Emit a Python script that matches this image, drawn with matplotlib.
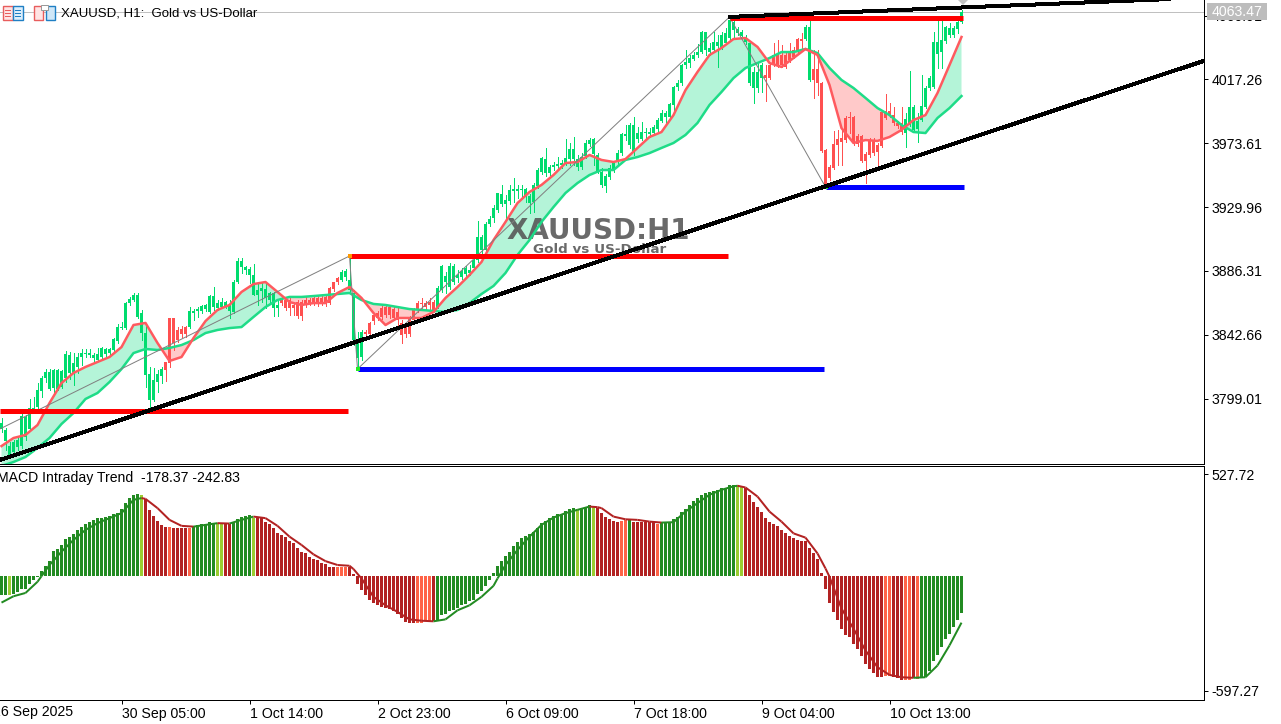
import numpy as np
import matplotlib
matplotlib.use("Agg")
import matplotlib.pyplot as plt
from matplotlib.patches import Rectangle, Polygon
from matplotlib.transforms import Affine2D
from matplotlib.collections import LineCollection

W, H = 1281, 724
UI_FONT = "Liberation Sans"

# ---------- data: candles (one per H1 bar) ----------
body_top = [
3782.2,3777.5,3766.5,3769.2,3770.6,3787.1,3786.4,3792.5,3792.5,3804.8,
3813.0,3817.2,3817.2,3818.5,3818.5,3817.8,3829.5,3828.8,3823.3,3827.4,
3830.1,3830.1,3830.1,3828.8,3829.5,3833.6,3832.9,3832.9,3839.7,3847.9,
3847.9,3864.3,3867.1,3869.8,3869.8,3857.5,3843.8,3815.8,3811.7,3815.8,
3819.2,3824.0,3854.1,3854.1,3845.9,3846.6,3847.9,3858.9,3858.9,3860.2,
3862.3,3863.0,3869.1,3869.1,3864.3,3865.0,3865.0,3862.3,3878.7,3893.1,
3893.1,3889.0,3887.6,3883.5,3873.2,3874.6,3873.9,3871.2,3871.2,3863.0,
3867.8,3866.4,3866.4,3863.0,3865.0,3865.0,3866.4,3866.4,3867.8,3867.8,
3867.8,3868.5,3874.6,3878.7,3881.4,3885.6,3886.2,3880.1,3871.2,3837.7,
3844.5,3844.5,3850.7,3856.1,3857.5,3860.9,3861.6,3861.6,3860.2,3858.2,
3850.7,3847.9,3854.1,3859.6,3864.3,3864.3,3864.3,3865.0,3865.0,3874.6,
3889.7,3882.8,3889.7,3889.7,3883.5,3886.2,3888.3,3886.9,3893.8,3909.5,
3909.5,3918.4,3921.8,3929.3,3939.6,3938.9,3934.8,3941.6,3942.3,3942.3,
3942.3,3942.3,3937.5,3945.1,3955.3,3963.5,3962.8,3957.4,3958.7,3959.4,
3960.1,3963.5,3969.7,3969.7,3962.8,3964.2,3973.8,3975.8,3976.5,3965.6,
3954.0,3951.2,3956.7,3960.1,3966.9,3980.0,3980.0,3986.1,3986.1,3980.6,
3981.3,3981.3,3981.3,3984.7,3989.5,3994.3,3994.3,4000.5,4012.1,4014.8,
4027.1,4029.2,4031.9,4034.0,4036.0,4049.7,4049.7,4038.8,4042.9,4042.9,
4047.7,4049.0,4057.9,4056.6,4051.8,4049.7,4045.6,4042.2,4022.4,4022.4,
4027.1,4020.3,4027.1,4034.0,4034.0,4034.0,4034.0,4036.0,4037.4,4044.9,
4044.9,4053.1,4053.1,4024.4,4024.4,4014.8,3969.0,3957.4,3973.1,3976.5,
3977.2,3990.9,3991.6,3991.6,3978.6,3978.6,3966.3,3975.8,3975.8,3972.4,
3995.0,3995.7,3995.7,3992.9,3987.5,3987.5,3990.2,3998.4,3998.4,3988.8,
3999.1,4011.4,4018.2,4042.9,4042.9,4044.2,4053.1,4052.4,4052.4,4056.6,4063.4]
body_bot = [
3778.2,3769.9,3760.4,3762.4,3765.8,3766.5,3772.7,3778.2,3791.8,3793.2,
3804.2,3813.0,3805.5,3806.2,3805.5,3806.9,3813.0,3816.5,3816.5,3820.6,
3827.4,3829.5,3828.8,3826.7,3825.4,3827.4,3829.5,3830.1,3832.2,3838.4,
3847.2,3847.2,3864.3,3866.4,3854.8,3843.8,3815.1,3798.0,3798.0,3810.3,
3814.4,3818.5,3823.3,3837.0,3839.0,3843.1,3843.1,3847.9,3857.5,3858.9,
3858.9,3860.2,3858.2,3861.6,3860.9,3861.6,3861.6,3858.9,3858.2,3878.7,
3889.0,3886.9,3883.5,3869.8,3869.8,3872.6,3867.8,3866.4,3860.9,3860.9,
3864.3,3860.9,3860.9,3860.9,3855.5,3855.5,3863.0,3864.3,3864.3,3863.7,
3864.3,3863.7,3864.3,3873.9,3878.7,3880.1,3882.1,3873.2,3839.0,3826.7,
3827.4,3843.1,3843.1,3852.0,3854.1,3854.8,3856.1,3856.1,3854.1,3852.7,
3842.4,3843.1,3843.1,3852.7,3859.6,3863.7,3861.6,3863.0,3859.6,3861.6,
3873.2,3878.7,3875.3,3878.7,3881.4,3882.1,3884.2,3884.9,3888.3,3893.8,
3900.6,3900.6,3918.4,3922.5,3928.0,3932.1,3932.1,3934.1,3941.0,3941.0,
3941.6,3936.9,3932.7,3933.4,3944.4,3954.0,3953.3,3953.3,3957.4,3958.1,
3958.7,3959.4,3962.8,3962.8,3957.4,3957.4,3964.9,3973.1,3966.3,3954.0,
3945.1,3944.4,3950.5,3955.3,3960.8,3966.9,3978.6,3972.4,3966.9,3976.5,
3976.5,3980.6,3979.9,3980.6,3983.4,3988.8,3991.6,3991.6,4000.0,4012.1,
4014.8,4027.1,4028.5,4031.2,4034.0,4036.0,4037.4,4036.0,4037.4,4040.1,
4038.8,4042.2,4045.6,4051.1,4049.0,4047.0,4042.9,4014.8,4011.4,4011.4,
4018.2,4018.2,4018.2,4027.1,4027.1,4027.1,4025.8,4030.6,4032.6,4036.0,
4043.6,4044.9,4016.9,4016.9,4014.8,3968.3,3945.1,3949.8,3956.7,3972.4,
3974.5,3975.8,3990.9,3973.8,3973.1,3961.5,3961.5,3965.6,3966.9,3967.6,
3971.7,3990.9,3992.9,3987.5,3985.4,3981.3,3980.6,3986.1,3982.7,3983.4,
3989.5,3998.4,4011.4,4012.1,4034.7,4036.0,4043.6,4047.7,4047.7,4051.8,4056.6]
highs = [
3785.7,3778.9,3769.2,3770.6,3772.7,3788.4,3787.8,3798.7,3800.1,3809.6,
3814.4,3819.2,3819.2,3819.2,3819.2,3818.5,3831.5,3830.8,3830.1,3830.1,
3832.9,3832.9,3832.9,3830.1,3833.6,3834.2,3833.6,3833.6,3840.4,3850.0,
3851.4,3865.0,3868.5,3871.2,3871.2,3859.6,3849.3,3820.6,3819.9,3818.5,
3820.6,3824.0,3854.1,3854.1,3847.9,3848.6,3848.6,3861.6,3860.2,3861.6,
3863.0,3863.7,3869.8,3875.3,3866.4,3867.8,3865.7,3866.4,3880.1,3895.1,
3895.1,3889.7,3889.0,3891.0,3878.0,3878.0,3878.0,3871.9,3871.9,3866.4,
3869.1,3867.8,3867.8,3864.3,3866.4,3866.4,3868.5,3867.8,3869.1,3869.1,
3869.1,3869.8,3875.3,3878.7,3882.1,3886.9,3887.6,3896.5,3873.2,3844.5,
3845.9,3845.9,3851.4,3857.5,3858.9,3862.3,3863.0,3863.0,3861.6,3860.9,
3852.7,3849.3,3855.5,3860.9,3865.7,3867.8,3865.7,3867.8,3866.4,3876.0,
3890.3,3885.6,3891.7,3891.0,3886.9,3888.3,3889.7,3890.3,3894.4,3920.4,
3910.9,3919.8,3923.9,3931.4,3939.6,3945.1,3938.2,3945.1,3949.8,3945.1,
3945.1,3943.0,3938.9,3946.4,3956.7,3964.2,3970.4,3958.7,3960.8,3964.2,
3962.2,3976.5,3973.8,3977.9,3965.6,3966.9,3975.8,3977.2,3977.2,3966.9,
3956.7,3952.6,3958.7,3960.8,3969.0,3980.6,3986.1,3987.5,3991.6,3984.7,
3988.2,3984.0,3984.0,3986.1,3990.9,3996.4,3995.7,4001.2,4012.8,4016.9,
4027.8,4037.4,4034.0,4036.0,4041.5,4050.4,4049.7,4042.2,4049.7,4047.7,
4049.7,4052.4,4060.0,4061.3,4053.1,4051.1,4047.7,4042.9,4025.8,4028.5,
4028.5,4027.1,4028.5,4042.2,4044.2,4040.8,4035.3,4042.2,4039.5,4045.6,
4049.0,4054.5,4057.9,4037.4,4037.4,4015.5,3969.7,3958.7,3982.0,3982.7,
3982.7,3992.3,3995.0,3992.3,3980.0,3979.3,3967.6,3977.2,3977.2,3973.8,
3996.4,4007.3,4001.2,3998.4,3988.8,3998.4,3994.3,4023.0,3999.8,3994.3,
4020.3,4012.8,4019.6,4049.7,4057.9,4057.9,4053.8,4055.9,4053.8,4057.9,4064.8]
lows = [
3776.1,3763.8,3759.0,3760.4,3763.8,3765.2,3770.6,3776.8,3790.5,3791.8,
3800.1,3810.3,3804.8,3802.8,3804.8,3806.2,3810.3,3812.4,3808.3,3816.5,
3822.0,3827.4,3827.4,3824.0,3824.7,3826.7,3827.4,3828.8,3830.8,3837.0,
3846.6,3846.6,3863.0,3865.7,3854.1,3839.0,3806.9,3792.5,3797.3,3803.5,
3809.6,3811.0,3820.6,3832.2,3837.7,3841.1,3841.1,3847.2,3852.7,3854.8,
3857.5,3858.9,3857.5,3859.6,3859.6,3860.9,3860.9,3854.1,3857.5,3878.0,
3884.9,3884.2,3878.0,3869.8,3863.0,3865.0,3860.9,3864.3,3855.5,3855.5,
3863.0,3859.6,3856.1,3856.1,3854.1,3852.7,3861.6,3863.0,3863.0,3862.3,
3863.0,3862.3,3863.7,3872.6,3877.3,3879.4,3880.1,3871.9,3835.6,3819.2,
3825.4,3841.8,3841.8,3850.0,3852.7,3853.4,3854.8,3854.1,3852.7,3847.9,
3837.0,3841.1,3841.8,3851.4,3858.2,3859.6,3860.2,3859.6,3858.2,3860.9,
3871.9,3871.2,3873.9,3877.3,3878.7,3880.8,3882.8,3883.5,3886.9,3892.4,
3898.5,3899.2,3917.0,3919.8,3926.6,3930.7,3922.5,3932.1,3933.4,3936.2,
3936.2,3933.4,3925.9,3926.6,3943.0,3952.6,3951.2,3951.9,3955.3,3956.0,
3956.7,3958.7,3958.7,3958.7,3955.3,3956.0,3963.5,3971.7,3958.7,3953.3,
3943.7,3940.3,3949.2,3954.0,3959.4,3965.6,3975.8,3970.4,3965.6,3974.5,
3975.8,3975.8,3977.9,3979.3,3982.0,3988.2,3986.1,3990.9,3995.0,4010.0,
4013.5,4025.1,4025.8,4030.6,4032.6,4035.3,4034.0,4034.0,4036.0,4025.8,
4038.1,4041.5,4044.9,4046.3,4047.7,4045.6,4041.5,4013.5,4001.2,4008.7,
4008.7,4002.5,4017.6,4026.5,4025.8,4025.8,4025.1,4029.2,4031.9,4035.3,
4037.4,4044.2,4016.2,4004.6,4006.6,3967.6,3944.4,3948.5,3956.0,3958.7,
3958.7,3974.5,3980.6,3972.4,3971.7,3960.8,3946.4,3964.2,3965.6,3956.7,
3971.1,3990.2,3991.6,3986.1,3984.0,3979.9,3971.1,3985.4,3982.0,3974.5,
3988.8,3997.7,4010.0,4011.4,4025.1,4025.1,4042.2,4046.3,4046.3,4049.0,4055.9]
# rising (1) / falling (0) runs
candle_up = [1]*41+[0]*6+[1]*23+[0]*15+[1]*6+[0]*18+[1]*82+[0]*10+[1]*2+[0]*23+[1]*15

# ---------- data: moving averages, read every third bar ----------
ma_bars = list(range(0, 241, 3))
ma_fast = [
3766.5,3772.0,3774.1,3780.9,3795.9,3809.6,3816.5,3820.6,3824.0,3827.4,
3834.2,3849.3,3850.7,3837.0,3824.7,3827.4,3840.4,3852.0,3859.6,3863.0,
3871.9,3877.3,3878.7,3871.9,3865.0,3863.0,3864.3,3864.3,3871.2,3875.3,
3867.8,3857.5,3849.3,3854.1,3854.1,3854.1,3858.2,3867.8,3875.3,3883.5,
3892.4,3907.4,3919.8,3932.7,3940.3,3945.1,3951.9,3960.1,3960.8,3965.6,
3962.2,3960.8,3962.8,3970.4,3977.9,3981.3,3992.9,4010.0,4022.4,4034.0,
4038.8,4044.9,4045.6,4039.5,4028.5,4025.8,4031.9,4038.1,4034.0,4013.5,
3984.0,3973.8,3975.8,3975.2,3977.9,3982.7,3989.5,3992.9,4008.0,4027.1,
4046.3]
ma_slow = [
3752.9,3755.6,3759.0,3765.2,3772.0,3781.6,3789.1,3798.7,3802.8,3810.3,
3819.2,3830.1,3832.9,3832.2,3833.6,3835.6,3839.0,3843.8,3845.9,3847.2,
3847.9,3854.8,3861.6,3866.4,3868.5,3868.5,3869.1,3869.8,3870.5,3871.2,
3866.4,3863.7,3863.0,3861.6,3860.2,3859.6,3858.9,3858.2,3859.6,3864.3,
3870.5,3876.0,3884.9,3897.2,3907.4,3919.8,3930.0,3939.6,3946.4,3951.9,
3955.3,3955.3,3962.2,3964.2,3966.9,3970.4,3973.8,3979.3,3987.5,3999.8,
4008.7,4018.2,4025.1,4028.5,4031.9,4036.0,4036.0,4038.1,4035.3,4025.1,
4016.9,4011.4,4004.6,3997.7,3992.9,3986.1,3981.3,3980.6,3990.9,3997.7,
4005.9]

# ---------- data: drawn objects ----------
zigzag_bars = [-0.4, 87, 89, 182, 206]
zigzag_prices = [3778.2, 3896.5, 3819.2, 4060.0, 3943.7]
swing_high_bars, swing_high_prices = [87, 182], [3896.5, 4060.0]
swing_low_bars, swing_low_prices = [89, 206], [3819.2, 3943.7]
red_levels = [(-0.4, 86.5, 3790.5), (87, 181.5, 3896.5), (182, 240.25, 4059.6)]
blue_levels = [(89, 205.5, 3819.2), (206, 240.5, 3943.7)]
trend_lines = [((-0.4, 3757.0), (300.5, 4029.9)), ((181.75, 4060.0), (300.5, 4073.2))]
last_price = 4063.47
price_ticks = [4060.91, 4017.26, 3973.61, 3929.96, 3886.31, 3842.66, 3799.01]
price_tick_labels = ["4060.91", "4017.26", "3973.61", "3929.96", "3886.31", "3842.66", "3799.01"]

# ---------- data: MACD ----------
macd_hist = [
-101,-101,-101,-92,-83,-71,-66,-40,-23,-5,
24,50,76,128,139,160,191,203,215,238,
255,267,278,290,299,302,307,312,319,328,
347,380,403,420,424,420,399,342,312,286,
264,252,253,250,250,247,247,250,259,264,
267,271,278,276,273,273,276,267,278,293,
307,312,316,299,302,299,281,267,247,220,
212,200,181,172,142,125,116,99,87,80,
68,59,47,47,47,47,47,47,10,-45,
-75,-101,-123,-139,-153,-160,-167,-174,-184,-196,
-219,-240,-245,-245,-245,-245,-236,-236,-236,-231,
-205,-196,-184,-175,-167,-153,-144,-132,-127,-95,
-80,-52,-23,12,50,76,104,122,156,177,
198,207,217,229,247,273,286,302,311,321,
321,337,347,351,345,354,356,366,363,351,
325,307,295,285,281,286,290,293,281,281,
281,278,278,278,269,278,278,281,295,307,
330,347,368,389,403,420,429,434,441,446,
455,455,469,472,472,458,455,420,385,359,
333,302,278,267,259,238,220,208,194,186,
181,181,142,116,85,16,-69,-139,-187,-231,
-274,-309,-318,-352,-382,-417,-457,-483,-503,-526,
-526,-521,-521,-526,-531,-540,-538,-538,-531,-535,
-529,-526,-496,-443,-413,-370,-326,-300,-266,-231,-193]
hist_state = ["g"]*2+["y"]+["g"]*32+["y"]+["r"]*6+["t"]+["r"]*4+["t"]+["g"]*6+["y"]*2+["r"]*2+["g"]*5+["y"] \
    +["r"]*20+["t"]*3+["r"]*17+["t"]*4+["r"]+["g"]*35+["y"]+["g"]*3+["y"]+["r"]*6+["t"]*2+["g"]+["r"]*6+["t"] \
    +["g"]*19+["y"]*2+["r"]*35+["t"]*2+["r"]*3+["t"]*2+["r"]+["t"]+["g"]*11
signal_bars = [0,3,6,9,10,12,15,18,21,24,27,30,33,35,36,39,42,45,48,51,54,57,60,63,66,69,72,75,78,81,84,87,88,90,
               93,96,99,102,105,108,111,114,117,120,123,124,126,129,132,135,138,141,144,147,149,150,153,156,159,162,
               165,168,171,174,177,180,183,184,186,189,192,195,198,201,204,206,207,210,213,216,219,222,225,228,231,
               234,237,240]
signal_vals = [-139,-106,-89,-31,-2,56,125,186,238,273,299,325,394,403,399,351,290,259,255,264,273,271,290,307,299,
               259,203,160,111,76,56,52,35,-14,-109,-153,-187,-226,-233,-236,-226,-179,-153,-109,-52,-14,56,134,203,
               264,302,325,342,359,356,351,307,293,290,281,276,278,333,377,420,446,464,467,458,411,333,281,220,198,
               116,38,-5,-170,-274,-387,-474,-514,-526,-529,-526,-465,-361,-243]
macd_ticks = [527.72, -597.27]
macd_tick_labels = ["527.72", "-597.27"]

time_tick_bars = [30, 62, 94, 126, 158, 190, 222]
time_tick_labels = ["30 Sep 05:00", "1 Oct 14:00", "2 Oct 23:00", "6 Oct 09:00", "7 Oct 18:00", "9 Oct 04:00", "10 Oct 13:00"]

# ---------- styles ----------
UP, DOWN = "#00DC6E", "#FF5050"
FAST, SLOW = "#FF5A5F", "#1EDC88"
FILL_UP, FILL_DOWN = "#B4F4D8", "#FFC9C9"
HIST_COL = {"g": "#228B22", "y": "#9ACD32", "r": "#B22222", "t": "#FF6347"}
px = 72 / 100

fig = plt.figure(figsize=(W / 100, H / 100), dpi=100, facecolor="white")
pxt = Affine2D().scale(1 / W, -1 / H).translate(0, 1) + fig.transFigure

def axes_px(x0, y0, x1, y1):
    return fig.add_axes([x0 / W, 1 - y1 / H, (x1 - x0) / W, (y1 - y0) / H])

ax = axes_px(0, 0, 1203.5, 463.5)
am = axes_px(0, 465.5, 1203.5, 699.5)
XLIM = (-0.375, 300.5)
for a in (ax, am):
    a.set_xlim(*XLIM)
    a.set_facecolor("white")
    a.spines["left"].set_visible(False)
ax.set_ylim(4071.6 - 0.684 * 463.5, 4071.6)
am.set_ylim(527.72 - (690 - 465.5) * 5.208, 527.72 + (474 - 465.5) * 5.208)

# ---- main panel
bars = np.arange(len(body_top))
up = np.array(candle_up, bool)
top, bot, hi, lo = map(np.array, (body_top, body_bot, highs, lows))
mb, mf, ms = map(np.array, (ma_bars, ma_fast, ma_slow))

ax.fill_between(mb, mf, ms, where=mf >= ms, interpolate=True, color=FILL_UP, lw=0, zorder=1)
ax.fill_between(mb, mf, ms, where=mf <= ms, interpolate=True, color=FILL_DOWN, lw=0, zorder=1)
ax.axhline(last_price, color="#C0C0C0", lw=px, zorder=1.5)

for mask, col in ((up, UP), (~up, DOWN)):
    ax.vlines(bars[mask], lo[mask], hi[mask], color=col, lw=px, zorder=2, antialiased=False)
    ax.bar(bars[mask], top[mask] - bot[mask], bottom=bot[mask], width=0.78, color=col, lw=0, zorder=2.1, antialiased=False)

ax.text(598 / W, 1 - 231 / H, "XAUUSD:H1", transform=fig.transFigure, ha="center", va="center", family="DejaVu Sans",
        weight="bold", fontsize=20, color="#555555", alpha=0.88, zorder=2.5)
ax.text(600 / W, 1 - 250 / H, "Gold vs US-Dollar", transform=fig.transFigure, ha="center", va="center", family="DejaVu Sans",
        weight="bold", fontsize=9.7, color="#555555", alpha=0.88, zorder=2.5)

ax.plot(mb, ms, color=SLOW, lw=2.5 * px, zorder=3)
ax.plot(mb, mf, color=FAST, lw=2.5 * px, zorder=3.1)
ax.plot(zigzag_bars, zigzag_prices, color="#808080", lw=px, zorder=3.2)

for x0, x1, p in red_levels:
    ax.plot([x0, x1], [p, p], color="#FF0000", lw=5 * px, solid_capstyle="butt", zorder=3.5)
for x0, x1, p in blue_levels:
    ax.plot([x0, x1], [p, p], color="#0000FF", lw=5 * px, solid_capstyle="butt", zorder=3.5)
ax.scatter(swing_high_bars, swing_high_prices, marker="s", s=(5 * px) ** 2, color="#FF9900", lw=0, zorder=3.6)
ax.scatter(swing_low_bars, swing_low_prices, marker="s", s=(5 * px) ** 2, color="#22EE22", lw=0, zorder=3.6)
for (a0, a1) in trend_lines:
    ax.plot([a0[0], a1[0]], [a0[1], a1[1]], color="black", lw=3 * px, solid_capstyle="butt", zorder=4, antialiased=False)

ax.spines["top"].set_visible(False)
ax.xaxis.set_visible(False)
ax.yaxis.tick_right()
ax.set_yticks(price_ticks, price_tick_labels)
ax.tick_params(axis="y", length=4 * px, width=px, pad=3, labelsize=10.2, labelfontfamily=UI_FONT)

# ---- MACD panel
am.bar(bars, macd_hist, width=0.78, color=[HIST_COL[s] for s in hist_state], lw=0, antialiased=False, zorder=2)
sb, sv = np.array(signal_bars), np.array(signal_vals)
segs = [[(sb[k], sv[k]), (sb[k + 1], sv[k + 1])] for k in range(len(sb) - 1)]
cols = ["#228B22" if sv[k + 1] >= sv[k] else "#B22222" for k in range(len(sb) - 1)]
am.add_collection(LineCollection(segs, colors=cols, linewidths=2 * px, zorder=3))
am.yaxis.tick_right()
am.set_yticks(macd_ticks, macd_tick_labels)
am.tick_params(axis="y", length=4 * px, width=px, pad=3, labelsize=10.2, labelfontfamily=UI_FONT)
am.set_xticks(time_tick_bars, time_tick_labels, ha="left", fontfamily=UI_FONT, fontsize=10.2)
am.tick_params(axis="x", length=4 * px, width=px, pad=2.5)
fig.text(-7 / W, 1 - 712 / H, "26 Sep 2025", ha="left", va="center", fontsize=10.2, family=UI_FONT)

for a in (ax, am):
    for s in a.spines.values():
        s.set_linewidth(px)

fig.text(-3 / W, 1 - 478 / H, "MACD Intraday Trend  -178.37 -242.83", ha="left", va="center", fontsize=10.1, family=UI_FONT)
fig.text(61 / W, 1 - 13 / H, "XAUUSD, H1:  Gold vs US-Dollar", ha="left", va="center", fontsize=9.5, family=UI_FONT)

# ---- last-price box, arrow and toolbar icons
fig.add_artist(Rectangle((1207, 3), 60, 17, transform=pxt, facecolor="#BDBDBD", edgecolor="none", zorder=10))
fig.text(1237 / W, 1 - 12 / H, "4063.47", ha="center", va="center", fontsize=10.2, family=UI_FONT, color="white", zorder=11)
fig.add_artist(Polygon([(958, 0), (968, 0), (963, 5)], closed=True, transform=pxt, facecolor="#C4C4C4", edgecolor="none", zorder=10))

def icon_rect(x, y, w, h, fc, ec):
    fig.add_artist(Rectangle((x, y), w, h, transform=pxt, facecolor=fc, edgecolor=ec, linewidth=1.4 * px, zorder=10))

icon_rect(3, 6, 10, 14, "#FFE4E4", "#E85D5D")
icon_rect(13, 6, 10, 14, "#DCEEFB", "#1F7FC4")
for yy in (10, 13, 16):
    fig.add_artist(Rectangle((5, yy), 6, 1, transform=pxt, facecolor="#E85D5D", edgecolor="none", zorder=11))
    fig.add_artist(Rectangle((15, yy), 6, 1, transform=pxt, facecolor="#1F7FC4", edgecolor="none", zorder=11))
fig.add_artist(Polygon([(34, 6), (43, 6), (43, 20), (34, 20)], closed=True, transform=pxt, facecolor="#FFE4E4", edgecolor="#E85D5D", linewidth=1.4 * px, zorder=10))
fig.add_artist(Polygon([(46, 6), (55, 6), (55, 20), (46, 20)], closed=True, transform=pxt, facecolor="#CFE7F8", edgecolor="#1F7FC4", linewidth=1.4 * px, zorder=10))
fig.add_artist(Rectangle((41, 5), 7, 5, transform=pxt, facecolor="white", edgecolor="#9A9A9A", linewidth=1 * px, zorder=11))

fig.savefig("out.png", dpi=100)
